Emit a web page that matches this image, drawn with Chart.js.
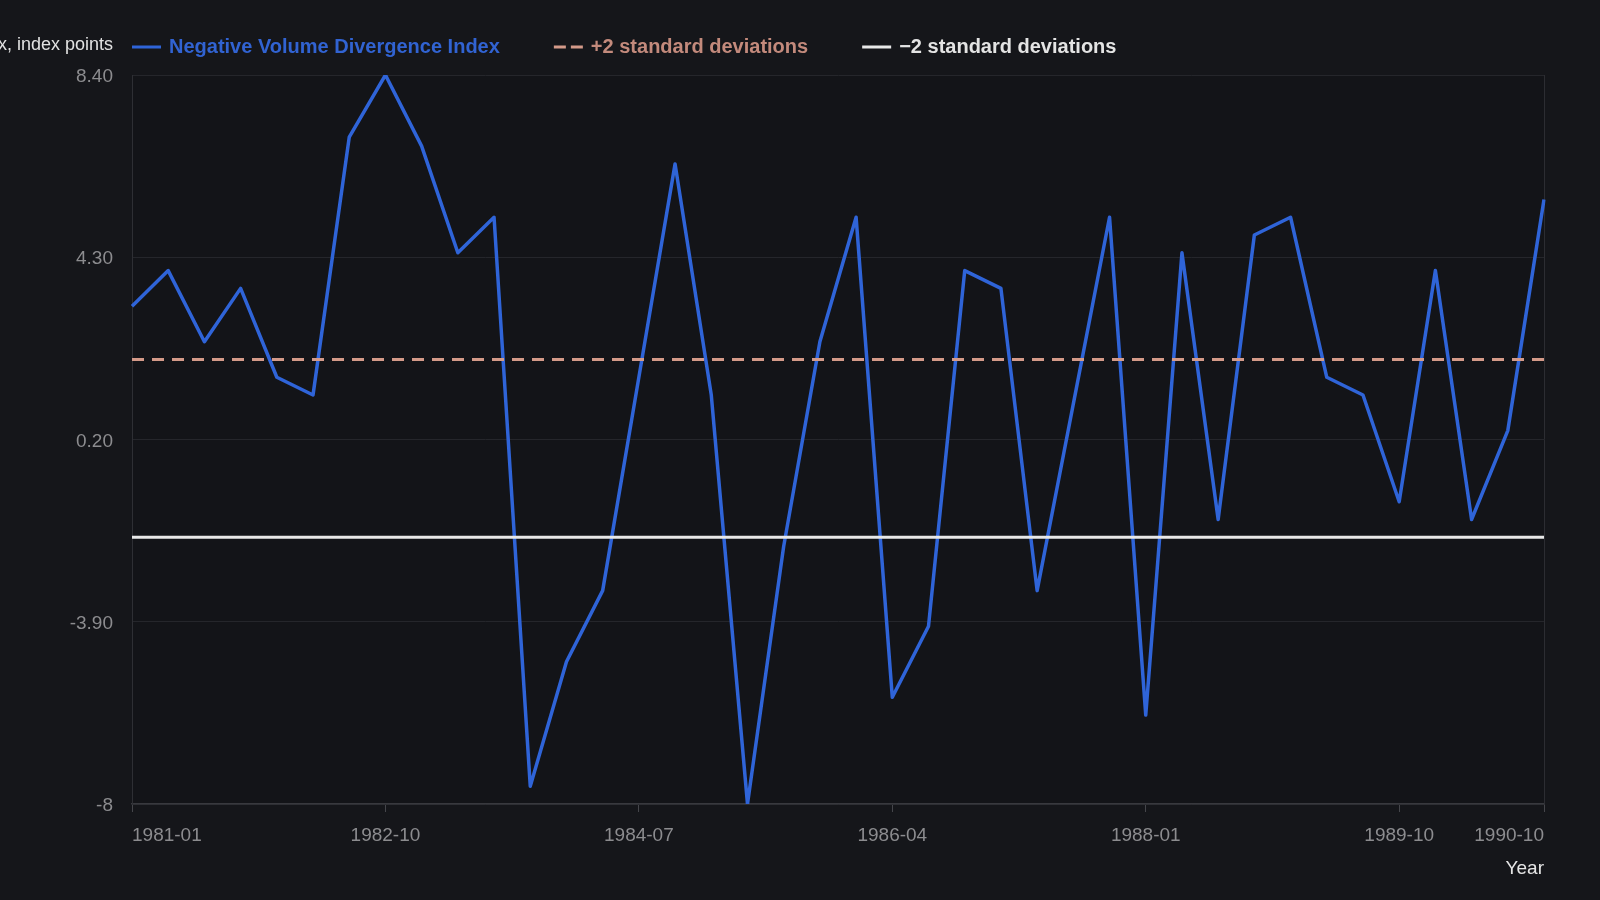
<!DOCTYPE html>
<html>
<head>
<meta charset="utf-8">
<script src="https://cdn.jsdelivr.net/npm/chart.js@4.4.0/dist/chart.umd.min.js"></script>
<style>
  html, body { margin: 0; padding: 0; background: #15161a; }
  #wrap { width: 1600px; height: 900px; }
</style>
</head>
<body>
<div id="wrap"><canvas id="myChart" width="1600" height="900"></canvas></div>
<script>
// quarterly observations
const quarters = [
  "1981-01", "1981-04", "1981-07", "1981-10",
  "1982-01", "1982-04", "1982-07", "1982-10",
  "1983-01", "1983-04", "1983-07", "1983-10",
  "1984-01", "1984-04", "1984-07", "1984-10",
  "1985-01", "1985-04", "1985-07", "1985-10",
  "1986-01", "1986-04", "1986-07", "1986-10",
  "1987-01", "1987-04", "1987-07", "1987-10",
  "1988-01", "1988-04", "1988-07", "1988-10",
  "1989-01", "1989-04", "1989-07", "1989-10",
  "1990-01", "1990-04", "1990-07", "1990-10"
];
const nvdi = [
  3.2, 4.0, 2.4, 3.6, 1.6, 1.2, 7.0, 8.4, 6.8, 4.4,
  5.2, -7.6, -4.8, -3.2, 1.6, 6.4, 1.2, -8.0, -2.2, 2.4,
  5.2, -5.6, -4.0, 4.0, 3.6, -3.2, 1.0, 5.2, -6.0, 4.4,
  -1.6, 4.8, 5.2, 1.6, 1.2, -1.2, 4.0, -1.6, 0.4, 5.6
];
const plusTwoSd = 2.0;
const minusTwoSd = -2.0;

const xTickLabels = ["1981-01", "1982-10", "1984-07", "1986-04", "1988-01", "1989-10", "1990-10"];
const yTicks = [-8, -3.9, 0.2, 4.3, 8.4];
const yTickLabels = ["-8", "-3.90", "0.20", "4.30", "8.40"];

const FONT = '"Liberation Sans", Arial, Helvetica, sans-serif';

const bgPlugin = {
  id: "bg",
  beforeDraw(chart) {
    const c = chart.ctx, a = chart.chartArea;
    c.save();
    c.fillStyle = "#15161a";
    c.fillRect(0, 0, chart.width, chart.height);
    c.fillStyle = "#131418";
    c.fillRect(a.left, a.top, a.right - a.left, a.bottom - a.top);
    c.restore();
  },
  beforeDatasetsDraw(chart) {
    const c = chart.ctx, a = chart.chartArea;
    c.save();
    c.strokeStyle = "#2c2d32";
    c.lineWidth = 1;
    c.beginPath();
    c.moveTo(a.right + 0.5, a.top);
    c.lineTo(a.right + 0.5, a.bottom);
    c.stroke();
    c.restore();
  }
};

// y title + legend drawn on one line above the plot
const legendPlugin = {
  id: "lineLegend",
  afterDraw(chart) {
    const c = chart.ctx, a = chart.chartArea;
    const y = 47;
    c.save();
    c.textBaseline = "middle";
    c.font = "18px " + FONT;
    c.fillStyle = "#e2e2e2";
    c.textAlign = "right";
    c.fillText("Index, index points", a.left - 19, y - 2);

    c.textAlign = "left";
    c.font = "bold 20px " + FONT;
    let x = a.left;
    chart.data.datasets.forEach((ds) => {
      c.strokeStyle = ds.borderColor;
      c.lineWidth = 3;
      c.setLineDash(ds.legendDash || []);
      c.beginPath();
      c.moveTo(x, y);
      c.lineTo(x + 29, y);
      c.stroke();
      c.setLineDash([]);
      x += 37;
      c.fillStyle = ds.legendText;
      c.fillText(ds.label, x, y);
      x += c.measureText(ds.label).width + 54;
    });
    c.restore();
  }
};

const ctx = document.getElementById("myChart");

new Chart(ctx, {
  type: "line",
  data: {
    labels: quarters,
    datasets: [
      {
        label: "Negative Volume Divergence Index",
        data: nvdi,
        borderColor: "#2f64d8",
        legendText: "#3163d2",
        borderWidth: 3.5,
        borderJoinStyle: "round",
        pointRadius: 0,
        tension: 0,
        order: 3,
      },
      {
        label: "+2 standard deviations",
        data: [{ x: quarters[0], y: plusTwoSd }, { x: quarters[quarters.length - 1], y: plusTwoSd }],
        borderColor: "#d49a89",
        legendText: "#c38a7c",
        borderDash: [12, 8],
        legendDash: [12, 5],
        borderWidth: 3,
        pointRadius: 0,
        order: 1,
      },
      {
        label: "\u22122 standard deviations",
        data: [{ x: quarters[0], y: minusTwoSd }, { x: quarters[quarters.length - 1], y: minusTwoSd }],
        borderColor: "#e8e8e8",
        legendText: "#e4e4e4",
        borderWidth: 3,
        pointRadius: 0,
        order: 2,
      },
    ],
  },
  options: {
    responsive: false,
    animation: false,
    devicePixelRatio: 1,
    layout: { padding: { top: 75, right: 56, bottom: 0, left: 0 } },
    plugins: {
      legend: { display: false },
      tooltip: { enabled: false },
    },
    scales: {
      x: {
        type: "category",
        afterBuildTicks: (axis) => {
          axis.ticks = xTickLabels.map((l) => ({ value: quarters.indexOf(l) }));
        },
        afterFit: (axis) => { axis.height = 96; },
        grid: {
          drawOnChartArea: false,
          drawTicks: true,
          tickLength: 8,
          color: "#45464b",
        },
        border: { color: "#38393e", width: 1.5 },
        ticks: {
          autoSkip: false,
          maxRotation: 0,
          align: "inner",
          padding: 12,
          color: "#8c8c8f",
          font: { family: FONT, size: 19 },
        },
        title: {
          display: true,
          text: "Year",
          align: "end",
          color: "#e6e6e6",
          font: { family: FONT, size: 19 },
          padding: { top: 10, bottom: 20 },
        },
      },
      y: {
        min: -8,
        max: 8.4,
        afterBuildTicks: (axis) => {
          axis.ticks = yTicks.map((v) => ({ value: v }));
        },
        afterFit: (axis) => { axis.width = 132; },
        grid: {
          color: "#25262b",
          drawTicks: false,
        },
        border: { color: "#2e2f34" },
        ticks: {
          padding: 19,
          labelOffset: 2,
          color: "#8c8c8f",
          font: { family: FONT, size: 19 },
          callback: (value, i) => yTickLabels[i],
        },
      },
    },
  },
  plugins: [bgPlugin, legendPlugin],
});
</script>
</body>
</html>
